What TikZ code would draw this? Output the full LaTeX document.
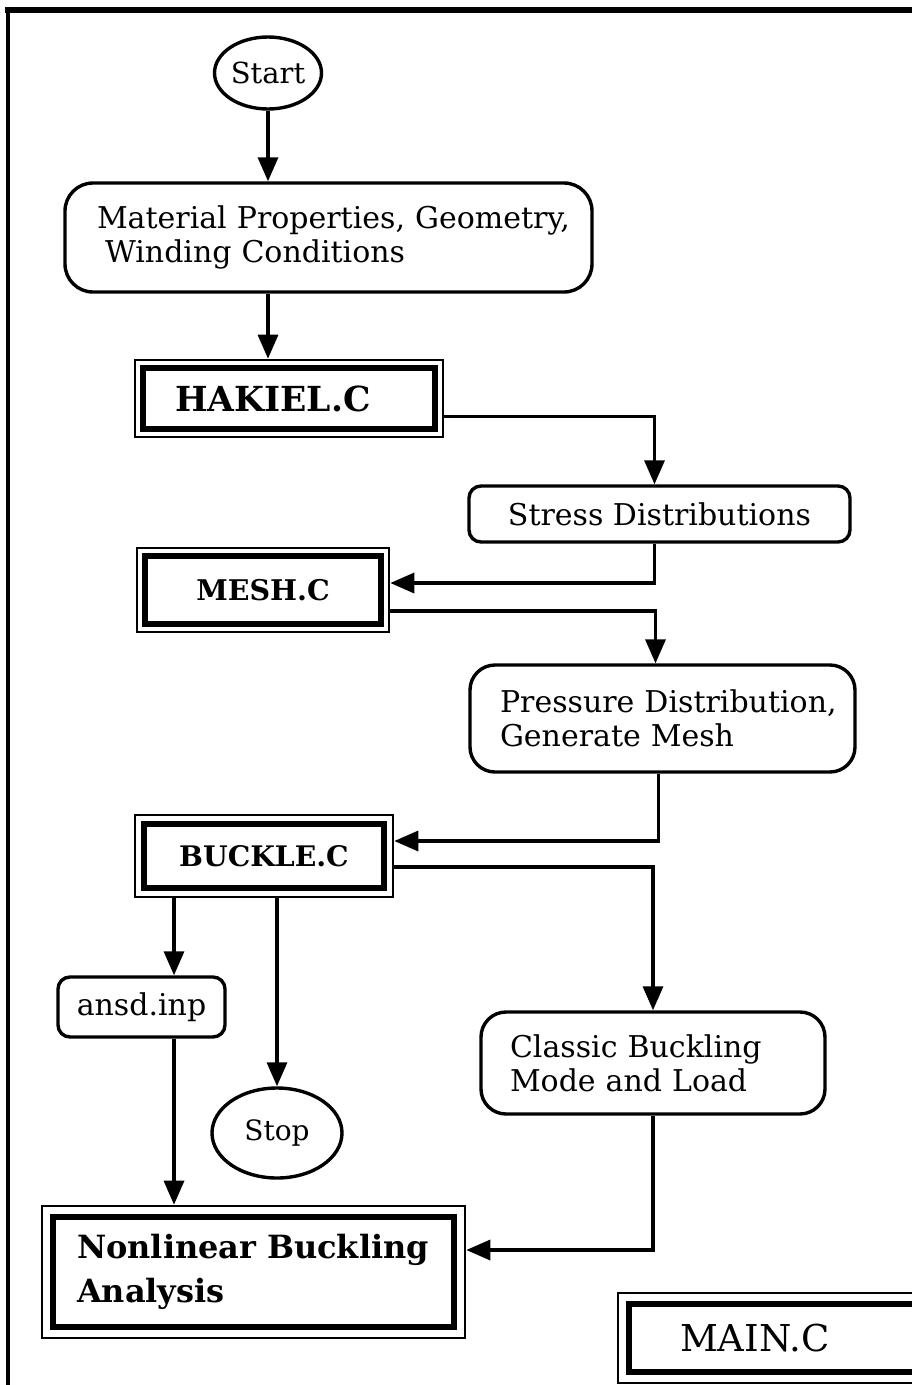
\documentclass[tikz,border=0pt]{standalone}
\usepackage{fontspec}
\setmainfont{DejaVu Serif}
\usetikzlibrary{arrows.meta,shapes.geometric}
\begin{document}
\begin{tikzpicture}[x=1pt,y=-1pt,
  conn/.style={line width=3.4pt, -{Triangle[length=24pt,width=20pt]}},
  roundbox/.style={draw, line width=3.4pt, rounded corners=#1, inner sep=0pt},
  oval/.style={draw, ellipse, line width=3.4pt, inner sep=0pt},
  body/.style={font=\fontsize{30}{34}\selectfont},
  heavy/.style={font=\fontsize{#1}{44}\selectfont\bfseries},
  dbox/.style={draw, line width=2.6pt, inner sep=0pt,
    path picture={\draw[line width=5.5pt]
      ([shift={(#1,-#1)}]path picture bounding box.north west) rectangle
      ([shift={(-#1,#1)}]path picture bounding box.south east);}},
]
\useasboundingbox (0,0) rectangle (912,1385);
\clip (0,0) rectangle (912,1385);

% page frame (top and left rules)
\draw[line width=6pt] (5,10) -- (912,10);
\draw[line width=4pt] (8,7) -- (8,1385);

% nodes
\node[oval, minimum width=107pt, minimum height=72pt, font=\fontsize{29}{34}\selectfont] (start) at (268,73) {Start};
\node[roundbox=28pt, minimum height=109pt, text width=463pt, inner xsep=32pt,
      align=left, body] (mat) at (328.5,237.5)
      {\mbox{Material Properties, Geometry,}\\\mbox{\hspace*{8pt}Winding Conditions}};
\node[dbox=8pt, minimum width=308pt, minimum height=77pt, text width=228pt,
      inner xsep=40pt, align=left, heavy=34.5] (hak) at (289,398.5) {HAKIEL.C};
\node[roundbox=12pt, minimum width=381pt, minimum height=56pt, body] (stress) at (659.5,514) {Stress Distributions};
\node[dbox=8pt, minimum width=252pt, minimum height=84pt, heavy=28.5] (mesh) at (263,590) {MESH.C};
\node[roundbox=25pt, text width=325pt, inner xsep=30pt, minimum height=107pt,
      align=left, body] (press) at (662.5,718.5) {\mbox{Pressure Distribution,}\\\mbox{Generate Mesh}};
\node[dbox=9pt, minimum width=258pt, minimum height=82pt, heavy=28.3] (buck) at (264,856) {BUCKLE.C};
\node[roundbox=12pt, minimum width=167pt, minimum height=60pt, body] (ansd) at (141.5,1007) {ansd.inp};
\node[oval, minimum width=130pt, minimum height=90pt, font=\fontsize{28}{34}\selectfont] (stop) at (277,1133) {Stop};
\node[roundbox=25pt, text width=286pt, inner xsep=29pt, minimum height=102pt,
      align=left, body] (classic) at (653,1063) {\mbox{Classic Buckling}\\\mbox{Mode and Load}};
\node[dbox=11pt, minimum width=423pt, minimum height=132pt, text width=353pt,
      inner xsep=35pt, align=left, heavy=32] (nl) at (253.5,1272) {\mbox{Nonlinear Buckling}\\Analysis};
\node[dbox=11pt, minimum width=342pt, minimum height=90pt, text width=218pt,
      inner xsep=62pt, align=left, font=\fontsize{37}{40}\selectfont] (main) at (789,1338) {MAIN.C};

\coordinate (lane) at (174,0);

% connectors
\draw[conn] (start.south) -- (start.south |- mat.north);
\draw[conn] (start |- mat.south) -- (start |- hak.north);
\draw[conn] ([yshift=-18pt]hak.east) -| ([xshift=-5pt]stress.north);
\draw[conn] ([xshift=-5pt]stress.south) |- ([yshift=7pt]mesh.east);
\draw[conn] ([yshift=-21pt]mesh.east) -| ([xshift=-7pt]press.north);
\draw[conn] ([xshift=-4pt]press.south) |- ([yshift=15pt]buck.east);
\draw[conn] ([yshift=-11pt]buck.east) -| (classic.north);
\draw[conn] (lane |- buck.south) -- (lane |- ansd.north);
\draw[conn] (stop.north |- buck.south) -- (stop.north);
\draw[conn] (lane |- ansd.south) -- (lane |- nl.north);
\draw[conn] (classic.south) |- ([yshift=22pt]nl.east);
\end{tikzpicture}
\end{document}
